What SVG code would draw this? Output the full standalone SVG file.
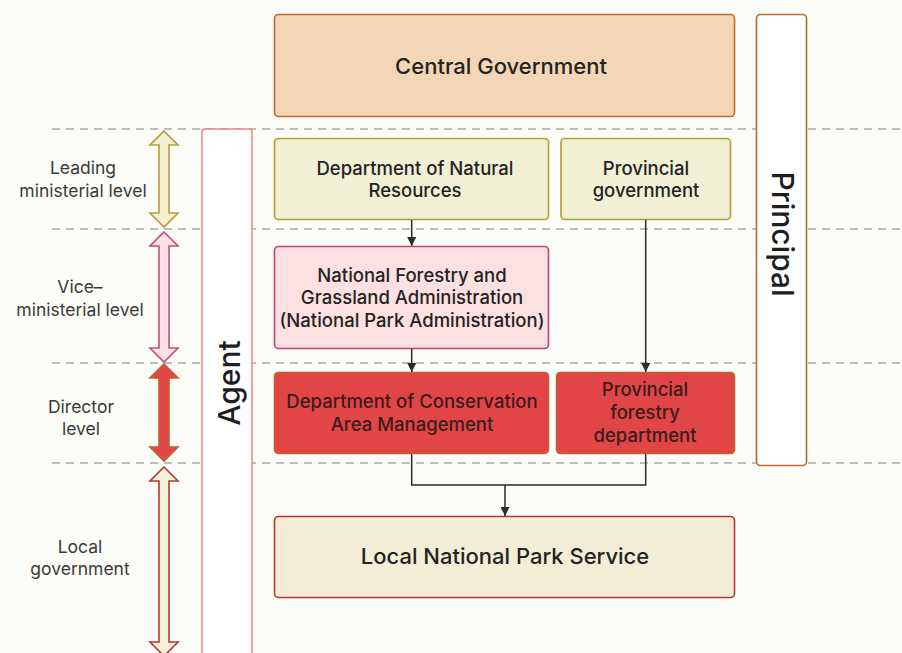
<svg xmlns="http://www.w3.org/2000/svg" width="902" height="653" viewBox="0 0 902 653">
  <defs>
    <marker id="tip" viewBox="0 0 10 10" refX="10" refY="5" markerWidth="9" markerHeight="9" markerUnits="userSpaceOnUse" orient="auto">
      <path d="M0,0 L10,5 L0,10 Z" fill="#2b2b2b"/>
    </marker>
    <style>
      text { font-family: Inter, "Noto Sans", "Liberation Sans", sans-serif; fill: #232323; text-anchor: middle; font-weight: 500; }
      .lvl { font-size: 17.5px; fill: #3a3a3a; font-weight: 400; }
      .box { font-size: 18.5px; }
      .big { font-size: 22px; }
      .side { font-size: 30px; fill: #1e1e1e; }
      .dark { fill: #3a1c1c; }
      .dash { stroke: #a8a8a8; stroke-width: 1.3; stroke-dasharray: 8 6; fill: none; }
      .edge { stroke: #2b2b2b; stroke-width: 1.5; fill: none; }
      .lvl-arrow { stroke-width: 1.6; stroke-linejoin: miter; }
    </style>
  </defs>

  <rect width="902" height="653" fill="#fcfcf8"/>

  <!-- level separators -->
  <g id="separators">
    <line class="dash" x1="52" y1="129" x2="902" y2="129"/>
    <line class="dash" x1="52" y1="229" x2="902" y2="229"/>
    <line class="dash" x1="52" y1="363" x2="902" y2="363"/>
    <line class="dash" x1="52" y1="463" x2="902" y2="463"/>
  </g>

  <!-- level labels -->
  <g id="levels">
    <text class="lvl" x="83" y="174">Leading</text>
    <text class="lvl" x="83" y="197">ministerial level</text>
    <text class="lvl" x="80" y="293">Vice–</text>
    <text class="lvl" x="80" y="316">ministerial level</text>
    <text class="lvl" x="81" y="413">Director</text>
    <text class="lvl" x="81" y="435">level</text>
    <text class="lvl" x="80" y="553">Local</text>
    <text class="lvl" x="80" y="575">government</text>
  </g>

  <!-- double-headed level arrows -->
  <g id="level-arrows">
    <path class="lvl-arrow" fill="#f3f0d2" stroke="#b59d3c" d="M164,131 L178,145 L169,145 L169,213 L178,213 L164,227 L150,213 L159,213 L159,145 L150,145 Z"/>
    <path class="lvl-arrow" fill="#fde1e7" stroke="#c0507c" d="M164,232 L178,246 L169,246 L169,348 L178,348 L164,362 L150,348 L159,348 L159,246 L150,246 Z"/>
    <path class="lvl-arrow" fill="#e24646" stroke="#c0602e" d="M164,364 L178,378 L169,378 L169,447 L178,447 L164,461 L150,447 L159,447 L159,378 L150,378 Z"/>
    <path class="lvl-arrow" fill="#f7f0d8" stroke="#b23a30" d="M164,467 L178,481 L169,481 L169,642 L178,642 L164,656 L150,642 L159,642 L159,481 L150,481 Z"/>
  </g>

  <!-- Agent column -->
  <g id="agent">
    <rect x="202" y="129" width="50" height="540" rx="3" fill="#ffffff" stroke="#f08484" stroke-width="1.5"/>
    <text class="side" transform="translate(240,383) rotate(-90)">Agent</text>
  </g>

  <!-- Principal column -->
  <g id="principal">
    <rect x="756.5" y="14.5" width="50" height="451" rx="4" fill="#ffffff" stroke="#b9692f" stroke-width="1.6"/>
    <text class="side" transform="translate(772,234) rotate(90)">Principal</text>
  </g>

  <g id="central-government">
    <rect x="274.5" y="14.5" width="460" height="102" rx="4" fill="#f2d6b5" stroke="#c06a2c" stroke-width="1.6"/>
    <text class="big" x="501" y="74">Central Government</text>
  </g>

  <g id="natural-resources">
    <rect x="274.5" y="138.5" width="274" height="81" rx="4" fill="#f1f0d5" stroke="#b49c34" stroke-width="1.6"/>
    <text class="box" x="415" y="175">Department of Natural</text>
    <text class="box" x="415" y="197">Resources</text>
  </g>

  <g id="provincial-government">
    <rect x="561" y="138.5" width="169.5" height="81" rx="4" fill="#f1f0d5" stroke="#b49c34" stroke-width="1.6"/>
    <text class="box" x="646" y="175">Provincial</text>
    <text class="box" x="646" y="197">government</text>
  </g>

  <g id="forestry-grassland">
    <rect x="274.5" y="246.5" width="274" height="102" rx="4" fill="#fde0e1" stroke="#c8406c" stroke-width="1.6"/>
    <text class="box" x="412" y="282">National Forestry and</text>
    <text class="box" x="412" y="304">Grassland Administration</text>
    <text class="box" x="412" y="327">(National Park Administration)</text>
  </g>

  <g id="conservation-area">
    <rect x="274.5" y="372.5" width="274" height="81" rx="4" fill="#e24545" stroke="#c2622e" stroke-width="1.6"/>
    <text class="box dark" x="412" y="408">Department of Conservation</text>
    <text class="box dark" x="412" y="431">Area Management</text>
  </g>

  <g id="provincial-forestry">
    <rect x="556.5" y="372.5" width="178" height="81" rx="4" fill="#e24545" stroke="#c2622e" stroke-width="1.6"/>
    <text class="box dark" x="645" y="396">Provincial</text>
    <text class="box dark" x="645" y="419">forestry</text>
    <text class="box dark" x="645" y="442">department</text>
  </g>

  <g id="local-park-service">
    <rect x="274.5" y="516.5" width="460" height="81" rx="4" fill="#f2eed6" stroke="#c03232" stroke-width="1.6"/>
    <text class="big" x="505" y="564">Local National Park Service</text>
  </g>

  <!-- connectors -->
  <g id="connectors">
    <line class="edge" x1="411.7" y1="220" x2="411.7" y2="246" marker-end="url(#tip)"/>
    <line class="edge" x1="411.7" y1="349" x2="411.7" y2="372" marker-end="url(#tip)"/>
    <line class="edge" x1="645.7" y1="220" x2="645.7" y2="372" marker-end="url(#tip)"/>
    <polyline class="edge" points="411.7,454 411.7,485 645.7,485 645.7,454"/>
    <line class="edge" x1="505" y1="485" x2="505" y2="516" marker-end="url(#tip)"/>
  </g>
</svg>
